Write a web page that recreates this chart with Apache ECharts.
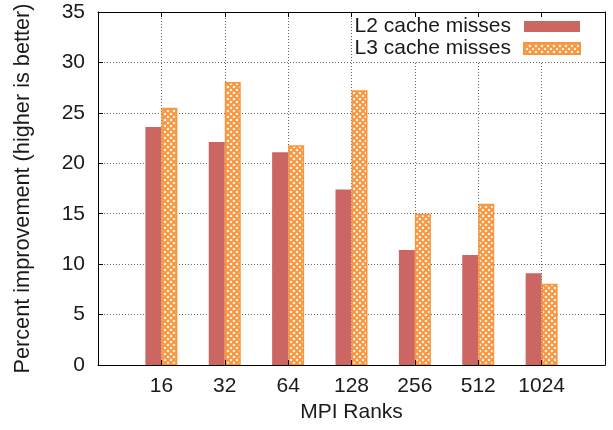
<!DOCTYPE html>
<html>
<head>
<meta charset="utf-8">
<script src="https://cdn.jsdelivr.net/npm/echarts@6/dist/echarts.min.js"></script>
<style>
html,body{margin:0;padding:0;background:#fff;}
#chart{width:613px;height:430px;}
</style>
</head>
<body>
<div id="chart"></div>
<script>
const categories = ['', '16', '32', '64', '128', '256', '512', '1024', ''];
const l2Values = [null, 23.6, 22.1, 21.1, 17.4, 11.4, 10.9, 9.1, null];
const l3Values = [null, 25.5, 28.05, 21.8, 27.25, 15.0, 16.0, 8.05, null];
const yTicks = { min: 0, max: 35, interval: 5 };

const FONT = 'Liberation Sans, Arial, Helvetica, sans-serif';
const TXT = '#1a1a1a';
const RED = '#cc6662';
const ORANGE = '#f7963e';
const FS = 21;

// cross-hatch pattern
const pc = document.createElement('canvas');
pc.width = 6; pc.height = 6;
const ctx = pc.getContext('2d');
ctx.fillStyle = '#fff';
ctx.fillRect(0, 0, 6, 6);
ctx.strokeStyle = ORANGE;
ctx.lineWidth = 2.1;
ctx.beginPath();
ctx.moveTo(-1, -1); ctx.lineTo(7, 7);
ctx.moveTo(7, -1); ctx.lineTo(-1, 7);
ctx.stroke();

const chart = echarts.init(document.getElementById('chart'), null, { renderer: 'canvas' });

const hidden = { show: false };
const xBase = { type: 'category', data: categories, boundaryGap: false };
const yBase = { type: 'value', min: yTicks.min, max: yTicks.max, interval: yTicks.interval };
const gridLine = { show: true, lineStyle: { color: '#666', width: 1, type: [1, 2] } };
const borderLine = { show: true, onZero: false, lineStyle: { color: '#000', width: 1 } };

chart.setOption({
  animation: false,
  backgroundColor: '#fff',
  grid: { left: 98, right: 8, top: 12, bottom: 65, containLabel: false, outerBoundsMode: 'none' },
  legend: {
    orient: 'vertical',
    align: 'right',
    right: 9,
    top: 14,
    padding: [2, 23, 3, 1],
    backgroundColor: '#fff',
    itemWidth: 56,
    itemHeight: 11,
    itemGap: 1,
    icon: 'rect',
    z: 5,
    textStyle: { fontFamily: FONT, fontSize: FS, color: TXT, lineHeight: 20, padding: [0, 8, 0, 0] },
    data: ['L2 cache misses', 'L3 cache misses']
  },
  xAxis: [
    Object.assign({}, xBase, {
      position: 'bottom', z: 0,
      axisLine: { show: false, onZero: false }, axisTick: hidden, axisLabel: hidden,
      splitLine: gridLine
    }),
    Object.assign({}, xBase, {
      position: 'bottom', z: 10,
      axisLine: borderLine,
      axisTick: { show: true, inside: true, length: 5, interval: 0, lineStyle: { color: '#000' } },
      axisLabel: { show: true, interval: 0, margin: 11, fontFamily: FONT, fontSize: FS, color: TXT },
      splitLine: hidden,
      name: 'MPI Ranks', nameLocation: 'middle', nameGap: 31,
      nameTextStyle: { fontFamily: FONT, fontSize: FS, color: TXT }
    }),
    Object.assign({}, xBase, {
      position: 'top', z: 10,
      axisLine: borderLine,
      axisTick: { show: true, inside: true, length: 5, interval: 0, lineStyle: { color: '#000' } },
      axisLabel: hidden, splitLine: hidden
    })
  ],
  yAxis: [
    Object.assign({}, yBase, {
      position: 'left', z: 0,
      axisLine: { show: false, onZero: false }, axisTick: hidden, axisLabel: hidden,
      splitLine: gridLine
    }),
    Object.assign({}, yBase, {
      position: 'left', z: 10,
      axisLine: borderLine,
      axisTick: { show: true, inside: true, length: 5, lineStyle: { color: '#000' } },
      axisLabel: { show: true, margin: 13, fontFamily: FONT, fontSize: FS, color: TXT },
      splitLine: hidden,
      name: 'Percent improvement (higher is better)', nameLocation: 'middle', nameGap: 64,
      nameRotate: 90,
      nameTextStyle: { fontFamily: FONT, fontSize: 21.7, color: TXT }
    }),
    Object.assign({}, yBase, {
      position: 'right', z: 10,
      axisLine: borderLine,
      axisTick: { show: true, inside: true, length: 5, lineStyle: { color: '#000' } },
      axisLabel: hidden, splitLine: hidden
    })
  ],
  series: [
    {
      name: 'L2 cache misses', type: 'bar', xAxisIndex: 0, yAxisIndex: 0,
      barWidth: 16, barGap: '0%',
      itemStyle: { color: RED },
      data: l2Values
    },
    {
      name: 'L3 cache misses', type: 'bar', xAxisIndex: 0, yAxisIndex: 0,
      barWidth: 16, barGap: '0%',
      itemStyle: { color: { image: pc, repeat: 'repeat' }, borderColor: ORANGE, borderWidth: 1.5 },
      data: l3Values
    }
  ]
});
</script>
</body>
</html>
